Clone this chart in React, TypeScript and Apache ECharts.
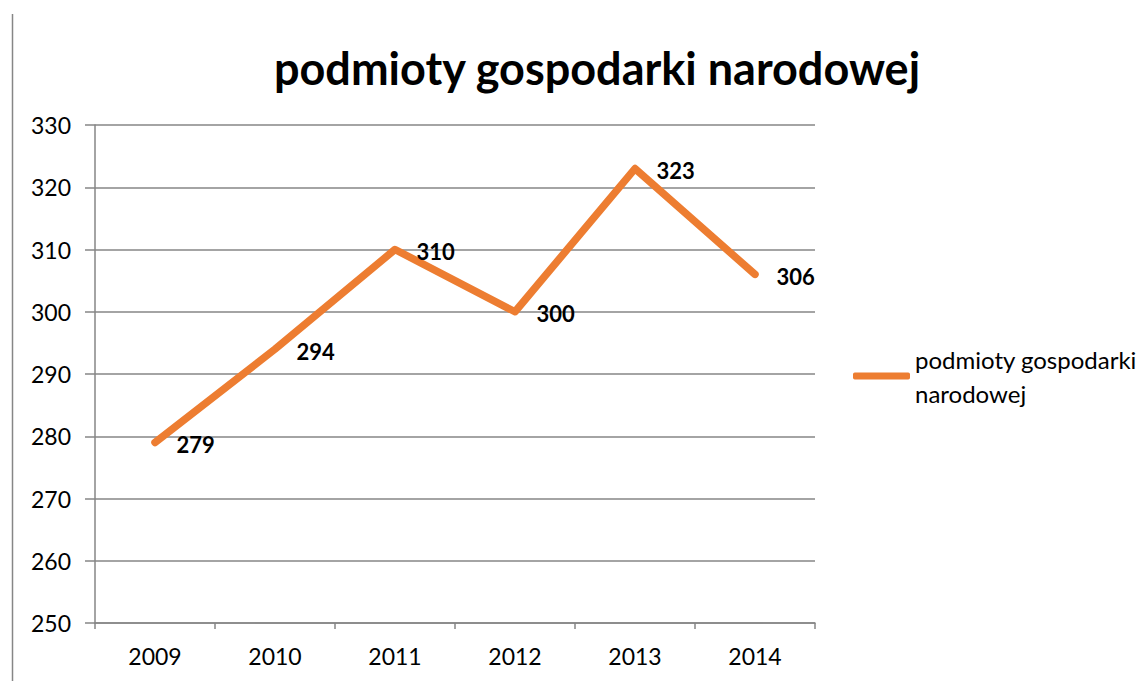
import React, { useEffect, useRef } from "react";
import * as echarts from "echarts";

const title = "podmioty gospodarki narodowej";
const seriesName = "podmioty gospodarki narodowej";
const categories = ["2009", "2010", "2011", "2012", "2013", "2014"];
const values = [279, 294, 310, 300, 323, 306];

export default function App() {
  const ref = useRef<HTMLDivElement>(null);
  useEffect(() => {
    if (!ref.current) return;
    const chart = echarts.init(ref.current, undefined, { renderer: "svg" });
    const font = "Lato";
    chart.setOption({
      animation: false,
      backgroundColor: "#ffffff",
      title: {
        text: title,
        left: 592,
        textAlign: "center",
        top: 40,
        textStyle: { fontFamily: font, fontSize: 45, fontWeight: "bold", color: "#000" },
      },
      grid: { left: 95, right: 331, top: 125, bottom: 58 },
      legend: {
        left: 853,
        top: 325,
        padding: 0,
        icon: "roundRect",
        itemWidth: 57,
        itemHeight: 7,
        itemGap: 0,
        formatter: () => "podmioty gospodarki\nnarodowej",
        textStyle: {
          fontFamily: font,
          fontSize: 24,
          color: "#000",
          lineHeight: 34,
          padding: [34, 0, 0, 0],
        },
        data: [{ name: seriesName, itemStyle: { color: "#ED7D31" } }],
      },
      xAxis: {
        type: "category",
        data: categories,
        boundaryGap: true,
        axisLine: { lineStyle: { color: "#868686", width: 1.5 } },
        axisTick: { show: true, length: 6, lineStyle: { color: "#868686", width: 1.5 } },
        axisLabel: { fontFamily: font, fontSize: 23, color: "#000", margin: 21 },
      },
      yAxis: {
        type: "value",
        min: 250,
        max: 330,
        interval: 10,
        axisLine: { show: true, lineStyle: { color: "#868686", width: 1.5 } },
        axisTick: { show: true, length: 10, lineStyle: { color: "#868686", width: 1.5 } },
        splitLine: { lineStyle: { color: "#868686", width: 1.5 } },
        axisLabel: { fontFamily: font, fontSize: 23, color: "#000", margin: 24 },
      },
      series: [
        {
          name: seriesName,
          type: "line",
          data: values,
          symbol: "circle",
          symbolSize: 1,
          showSymbol: true,
          lineStyle: { color: "#ED7D31", width: 7.5, cap: "round", join: "round" },
          itemStyle: { color: "#ED7D31" },
          label: {
            show: true,
            position: "right",
            distance: 21,
            offset: [0, 2],
            fontFamily: font,
            fontSize: 22,
            fontWeight: "bold",
            color: "#000",
          },
        },
      ],
      graphic: [
        {
          type: "line",
          shape: { x1: 12.5, y1: 14, x2: 12.5, y2: 681 },
          style: { stroke: "#868686", lineWidth: 1.5 },
        },
      ],
    });
    return () => chart.dispose();
  }, []);
  return (
    <div
      ref={ref}
      style={{ position: "fixed", left: 0, top: 0, width: 1146, height: 681 }}
    />
  );
}
